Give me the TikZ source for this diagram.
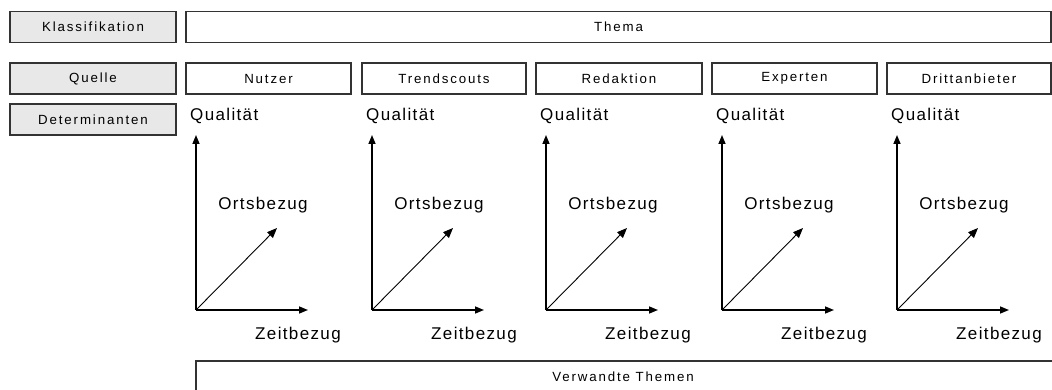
\documentclass[tikz,border=0pt]{standalone}
\usepackage{fontspec}
\setmainfont{Liberation Sans}
\newfontfamily\boxfont[LetterSpace=14]{Liberation Sans}
\newfontfamily\axfont[LetterSpace=8]{Liberation Sans}
\usetikzlibrary{arrows.meta}
\begin{document}
\begin{tikzpicture}[x=1pt,y=-1pt,
  boxbase/.style={draw=black!80, line width=1.4pt, inner sep=0pt, minimum height=31pt,
    font=\boxfont\fontsize{13.3}{15}\selectfont, text=black},
  graybox/.style={boxbase, fill=black!9, minimum width=166pt},
  whitebox/.style={boxbase, fill=white},
  axlabel/.style={font=\axfont\fontsize{17}{19}\selectfont, inner sep=0pt, text=black},
  axis/.style={line width=1.5pt, draw=black, -{Triangle[length=9pt,width=7pt]}},
  diag/.style={line width=0.9pt, draw=black, -{Triangle[length=10pt,width=8pt]}}]
\useasboundingbox (0,0) rectangle (1052,390);
\clip (0,0) rectangle (1052,390);
\fill[white] (0,0) rectangle (1052,390);

% left labels
\node[graybox] (klass) at (93,27) {Klassifikation};
\node[graybox] (quelle) at (93,78.5) {Quelle};
\node[graybox] (det) at (93,119.5) {Determinanten};

% Thema
\node[whitebox, minimum width=865pt] (thema) at (618.5,27) {Thema};

% columns
\foreach \l/\r/\t [count=\i] in {186/351/Nutzer, 362/526/Trendscouts, 536/702/Redaktion, 712/877/Experten, 887/1051/Drittanbieter}{
  \pgfmathsetmacro\w{\r-\l}
  \pgfmathsetmacro\c{(\r+\l)/2}
  \node[whitebox, minimum width=\w pt] (src\i) at (\c,78.5) {\t};
  \node[axlabel, anchor=west] (qual\i) at ({\l+4},116) {Qualität};
  \node[axlabel] (orts\i) at ({\l+77},205) {Ortsbezug};
  \node[axlabel] (zeit\i) at ({\l+112},335) {Zeitbezug};
  \coordinate (o\i) at ({\l+10},310);
  \coordinate (top\i) at ({\l+10},135);
  \coordinate (right\i) at ({\l+122},310);
  \coordinate (dg\i) at ({\l+91},228);
  \draw[axis] (o\i) -- (top\i);
  \draw[axis] (o\i) -- (right\i);
  \draw[diag] (o\i) -- (dg\i);
}

% Verwandte Themen
\draw[draw=black!80, line width=1.4pt, fill=white] (196,361) rectangle (1070,400);
\node[font=\boxfont\fontsize{13.3}{15}\selectfont, text=black] (verw) at (623,377) {Verwandte Themen};
\end{tikzpicture}
\end{document}
